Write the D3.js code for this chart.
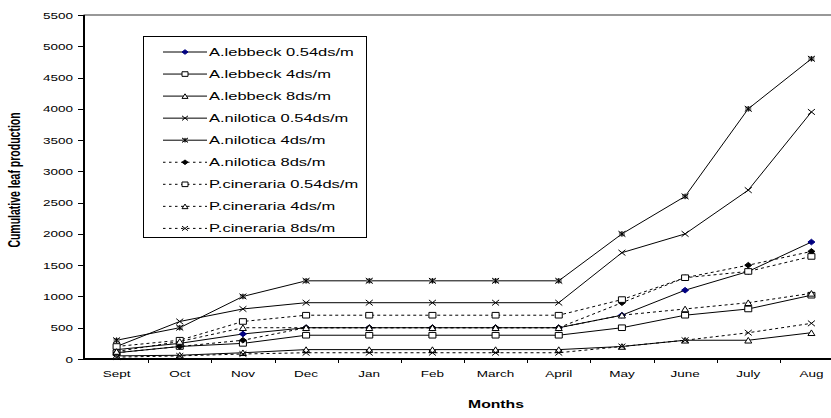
<!DOCTYPE html>
<html>
<head>
<meta charset="utf-8">
<script src="https://cdn.jsdelivr.net/npm/d3@7"></script>
<style>
  body { margin: 0; background: #fff; }
  svg { display: block; font-family: Arial, "Liberation Sans", sans-serif; }
</style>
</head>
<body>
<div class="wrapper"></div>
<script>
var months = ["Sept", "Oct", "Nov", "Dec", "Jan", "Feb", "March", "April", "May", "June", "July", "Aug"];
var yTicks = [0, 500, 1000, 1500, 2000, 2500, 3000, 3500, 4000, 4500, 5000, 5500];
var seriesNames = ["A.lebbeck 0.54ds/m", "A.lebbeck 4ds/m", "A.lebbeck 8ds/m",
  "A.nilotica 0.54ds/m", "A.nilotica 4ds/m", "A.nilotica 8ds/m",
  "P.cineraria 0.54ds/m", "P.cineraria 4ds/m", "P.cineraria 8ds/m"];

// values
var lebbeck054 = [150, 250, 400, 500, 500, 500, 500, 500, 700, 1100, 1400, 1870];
var lebbeck4 = [100, 200, 250, 380, 380, 380, 380, 380, 500, 700, 800, 1020];
var lebbeck8 = [50, 60, 100, 150, 150, 150, 150, 150, 200, 300, 300, 420];
var nilotica054 = [200, 600, 800, 900, 900, 900, 900, 900, 1700, 2000, 2700, 3950];
var nilotica4 = [300, 500, 1000, 1250, 1250, 1250, 1250, 1250, 2000, 2600, 4000, 4800];
var nilotica8 = [100, 200, 300, 500, 500, 500, 500, 500, 900, 1300, 1500, 1720];
var cineraria054 = [200, 300, 600, 700, 700, 700, 700, 700, 950, 1300, 1400, 1640];
var cineraria4 = [120, 280, 500, 500, 500, 500, 500, 500, 700, 800, 900, 1050];
var cineraria8 = [30, 50, 80, 100, 100, 100, 100, 100, 200, 300, 420, 570];

var seriesValues = [lebbeck054, lebbeck4, lebbeck8, nilotica054, nilotica4, nilotica8,
  cineraria054, cineraria4, cineraria8];

// look of each series: marker, fill, dashed or not
var styles = [
  {marker: "diamond", fill: "#000080", dash: null},
  {marker: "square", fill: "#fff", dash: null},
  {marker: "triangle", fill: "#fff", dash: null},
  {marker: "x", fill: "none", dash: null},
  {marker: "star", fill: "#808080", dash: null},
  {marker: "diamond", fill: "#000", dash: "3,3"},
  {marker: "square", fill: "#fff", dash: "3,3"},
  {marker: "triangle", fill: "#fff", dash: "3,3"},
  {marker: "x", fill: "none", dash: "3,3"}
];

var width = 831,
  height = 418,
  stretch = 1.5;

var svg = d3.select(".wrapper").append("svg")
  .attr("width", width)
  .attr("height", height);

var plot = {left: 84, right: 843, top: 15, bottom: 359};

var x = d3.scaleBand()
  .domain(months)
  .range([plot.left + 1, plot.right]);

var y = d3.scaleLinear()
  .domain([0, 5500])
  .range([plot.bottom, plot.top]);

function cx(d, i) { return x(months[i]) + x.bandwidth() / 2; }

function markerPath(type, hw, hh) {
  if (type == "square") return "M" + (-hw) + "," + (-hh) + "h" + (2 * hw) + "v" + (2 * hh) + "h" + (-2 * hw) + "Z";
  if (type == "diamond") return "M0," + (-hh) + "L" + hw + ",0L0," + hh + "L" + (-hw) + ",0Z";
  if (type == "triangle") return "M0," + (-hh) + "L" + hw + "," + hh + "L" + (-hw) + "," + hh + "Z";
  if (type == "x") return "M" + (-hw) + "," + (-hh) + "L" + hw + "," + hh + "M" + hw + "," + (-hh) + "L" + (-hw) + "," + hh;
  // star = square behind an x and a bar
  return "M" + (-hw) + "," + (-hh) + "L" + hw + "," + hh + "M" + hw + "," + (-hh) + "L" + (-hw) + "," + hh + "M0," + (-hh) + "V" + hh;
}

function drawMarker(g, st, hw, hh) {
  if (st.marker == "star") {
    g.append("path")
      .attr("d", markerPath("square", hw - 0.5, hh - 0.5))
      .attr("fill", st.fill)
      .attr("stroke", "none");
  }
  g.append("path")
    .attr("d", markerPath(st.marker, hw, hh))
    .attr("fill", st.marker == "star" ? "none" : st.fill)
    .attr("stroke", st.fill == "#000080" ? "#000080" : "#000")
    .attr("stroke-width", 1);
}

// stretched text helper, the original picture is wider than tall
function label(parent, tx, ty, str, size, anchor, bold) {
  return parent.append("text")
    .attr("transform", "translate(" + tx + "," + ty + ") scale(" + stretch + ",1)")
    .attr("text-anchor", anchor)
    .attr("font-size", size)
    .attr("font-weight", bold ? "bold" : "normal")
    .attr("fill", "#000")
    .text(str);
}

// plot area frame
svg.append("rect")
  .attr("x", plot.left)
  .attr("y", plot.top)
  .attr("width", plot.right - plot.left)
  .attr("height", plot.bottom - plot.top)
  .attr("fill", "none")
  .attr("stroke", "#333")
  .attr("stroke-width", 1);

// y axis
var yAxis = svg.append("g");
yAxis.append("line")
  .attr("x1", plot.left).attr("x2", plot.left)
  .attr("y1", plot.top).attr("y2", plot.bottom)
  .attr("stroke", "#000").attr("stroke-width", 2);
yAxis.selectAll("line.tick")
  .data(yTicks)
  .enter().append("line")
    .attr("class", "tick")
    .attr("x1", plot.left - 6).attr("x2", plot.left)
    .attr("y1", function(d) { return Math.round(y(d)) + 0.5; })
    .attr("y2", function(d) { return Math.round(y(d)) + 0.5; })
    .attr("stroke", "#000");
yTicks.forEach(function(t) {
  label(yAxis, 73, y(t) + 3.5, t, 9, "end", false);
});

// x axis
var xAxis = svg.append("g");
xAxis.append("line")
  .attr("x1", plot.left).attr("x2", width)
  .attr("y1", plot.bottom).attr("y2", plot.bottom)
  .attr("stroke", "#000").attr("stroke-width", 2);
xAxis.selectAll("line.tick")
  .data(months.slice(1))
  .enter().append("line")
    .attr("class", "tick")
    .attr("x1", function(d) { return Math.round(x(d)) + 0.5; })
    .attr("x2", function(d) { return Math.round(x(d)) + 0.5; })
    .attr("y1", plot.bottom).attr("y2", plot.bottom + 4)
    .attr("stroke", "#000");
months.forEach(function(m) {
  label(xAxis, x(m) + x.bandwidth() / 2, 377, m, 9, "middle", false);
});

// axis titles
label(svg, 496, 408, "Months", 10.5, "middle", true);
svg.append("text")
  .attr("transform", "translate(20,180) scale(" + stretch + ",1) rotate(-90)")
  .attr("text-anchor", "middle")
  .attr("font-size", 10.5)
  .attr("font-weight", "bold")
  .text("Cumulative leaf production");

// lines
var line = d3.line()
  .x(cx)
  .y(function(d) { return y(d); });

var series = svg.append("g")
  .selectAll("g")
  .data(seriesValues)
  .enter().append("g");

series.append("path")
  .attr("d", line)
  .attr("fill", "none")
  .attr("stroke", "#000")
  .attr("stroke-width", 1)
  .attr("stroke-dasharray", function(d, i) { return styles[i].dash; });

series.each(function(vals, i) {
  var g = d3.select(this);
  vals.forEach(function(v, j) {
    var m = g.append("g").attr("transform", "translate(" + cx(v, j) + "," + y(v) + ")");
    drawMarker(m, styles[i], 3.5, 2.8);
  });
});

// legend
var legend = svg.append("g");
legend.append("rect")
  .attr("x", 143.5).attr("y", 36.5)
  .attr("width", 223).attr("height", 201)
  .attr("fill", "#fff")
  .attr("stroke", "#000");

var rows = legend.selectAll("g")
  .data(seriesNames)
  .enter().append("g")
    .attr("transform", function(d, i) { return "translate(0," + (52 + i * 22.05) + ")"; });

rows.append("line")
  .attr("x1", 163).attr("x2", 207)
  .attr("y1", 0).attr("y2", 0)
  .attr("stroke", "#000")
  .attr("stroke-dasharray", function(d, i) { return styles[i].dash ? "2.5,3.5" : null; });

rows.each(function(d, i) {
  var m = d3.select(this).append("g").attr("transform", "translate(185,0)");
  drawMarker(m, styles[i], 3, 2.3);
  label(d3.select(this), 209, 4, d, 11, "start", false);
});
</script>
</body>
</html>
